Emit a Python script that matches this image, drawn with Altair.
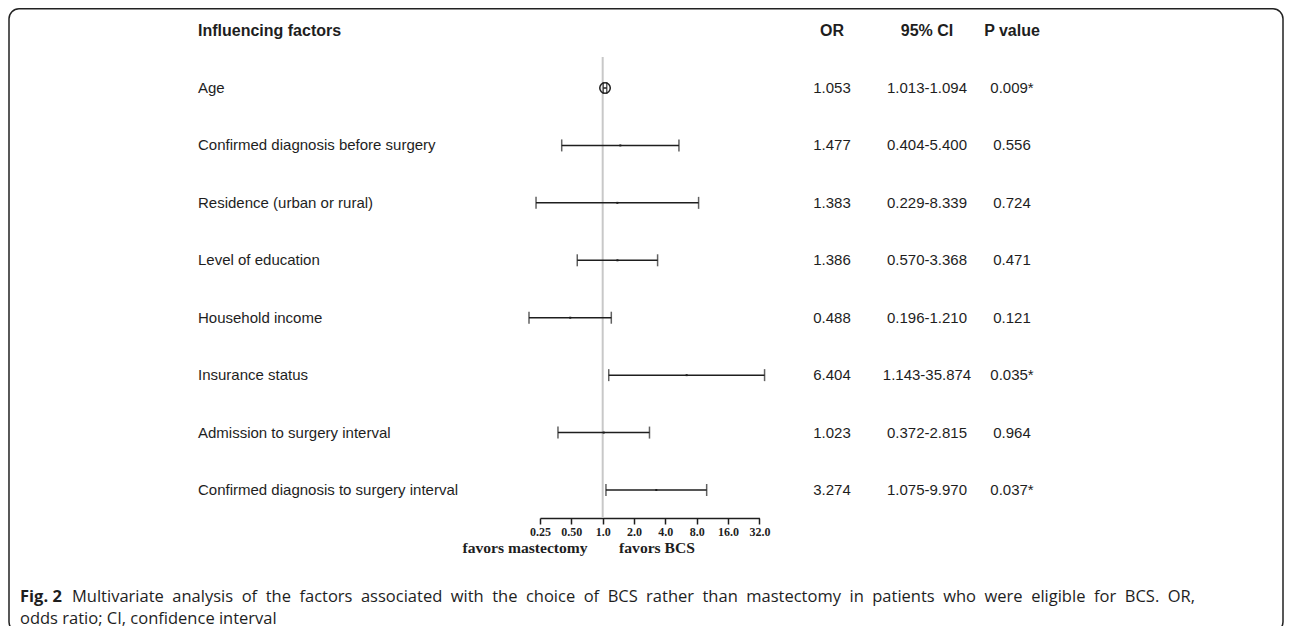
import altair as alt
import pandas as pd

# ---------------- data ----------------
factors = [
    "Age",
    "Confirmed diagnosis before surgery",
    "Residence (urban or rural)",
    "Level of education",
    "Household income",
    "Insurance status",
    "Admission to surgery interval",
    "Confirmed diagnosis to surgery interval",
]
odds_ratio = [1.053, 1.477, 1.383, 1.386, 0.488, 6.404, 1.023, 3.274]
ci_low = [1.013, 0.404, 0.229, 0.570, 0.196, 1.143, 0.372, 1.075]
ci_high = [1.094, 5.400, 8.339, 3.368, 1.210, 35.874, 2.815, 9.970]
p_values = ["0.009*", "0.556", "0.724", "0.471", "0.121", "0.035*", "0.964", "0.037*"]
markers = ["circle", "dot", "dot", "dot", "dot", "dot", "dot", "dot"]

tick_values = [0.25, 0.5, 1, 2, 4, 8, 16, 32]
tick_labels = ["0.25", "0.50", "1.0", "2.0", "4.0", "8.0", "16.0", "32.0"]

headers = ["Influencing factors", "OR", "95% CI", "P value"]
side_labels = ["favors mastectomy", "favors BCS"]
caption_bold = "Fig. 2"
caption_line1 = ("Multivariate analysis of the factors associated with the choice of BCS rather "
                 "than mastectomy in patients who were eligible for BCS. OR,")
caption_line2 = "odds ratio; CI, confidence interval"

df = pd.DataFrame({
    "factor": factors,
    "or": odds_ratio,
    "lo": ci_low,
    "hi": ci_high,
    "p": p_values,
    "marker": markers,
})
df["or_text"] = [f"{v:.3f}" for v in odds_ratio]
df["ci_text"] = [f"{a:.3f}-{b:.3f}" for a, b in zip(ci_low, ci_high)]

one = pd.DataFrame({"k": [0]})

# ---------------- styling ----------------
INK = "#1e1e1e"
SANS = "Liberation Sans"
SERIF = "Liberation Serif"
CAP_FONT = "Open Sans"
CAP_SIZE = 16.5

# justified caption line: approximate Open Sans advance widths (em units)
_w = {" ": .260, "a": .556, "b": .613, "c": .476, "d": .613, "e": .561, "f": .339, "g": .548,
      "h": .614, "i": .253, "l": .253, "m": .930, "n": .614, "o": .604, "p": .613, "r": .408,
      "s": .477, "t": .353, "u": .614, "v": .501, "w": .778, "y": .502, ".": .266, ",": .244,
      "M": .903, "B": .633, "C": .631, "S": .550, "O": .781, "R": .634}
words = caption_line1.split(" ")
widths = [sum(_w.get(ch, .55) for ch in wd) * CAP_SIZE for wd in words]
line_start, line_end = 64.0, 1187.0
gap = (line_end - line_start - sum(widths)) / (len(words) - 1)
xs, cur = [], line_start
for wdt in widths:
    xs.append(cur)
    cur += wdt + gap
caption_words = pd.DataFrame({"word": words, "px": xs})

label_expr = "{}[indexof({}, datum.value)]".format(
    "[" + ",".join(f"'{t}'" for t in tick_labels) + "]",
    "[" + ",".join(str(v) for v in tick_values) + "]",
)

xscale = alt.Scale(type="log", base=2, domain=[0.25, 32], range=[532, 751.4], nice=False)
yscale = alt.Scale(type="point", domain=factors, range=[80, 482], padding=0)

xaxis = alt.Axis(
    values=tick_values, labelExpr=label_expr, title=None, grid=False,
    labelFont=SERIF, labelFontWeight="bold", labelFontSize=12, labelColor=INK,
    labelPadding=2, labelFlush=False, labelOverlap=False,
    domainColor=INK, domainWidth=1.5, tickColor=INK, tickWidth=1.5, tickSize=6,
)

Y = alt.Y("factor:N", scale=yscale, axis=None)

base = alt.Chart(df)

ref_line = alt.Chart(one).mark_rule(color="#c8c8c8", strokeWidth=2).encode(
    x=alt.datum(1, scale=xscale, axis=xaxis, type="quantitative"),
    y=alt.value(49), y2=alt.value(510),
)

interval = base.mark_rule(color=INK, strokeWidth=1.5).encode(
    x=alt.X("lo:Q", scale=xscale, axis=xaxis), x2="hi:Q", y=Y,
)

caps = base.transform_fold(["lo", "hi"], as_=["end", "val"]).mark_tick(
    color=INK, size=12, thickness=1.5
).encode(x=alt.X("val:Q", scale=xscale), y=Y)

dots = base.transform_filter(alt.datum.marker == "dot").mark_point(
    shape="square", filled=True, size=4, color=INK, opacity=1
).encode(x=alt.X("or:Q", scale=xscale), y=Y)

circle = base.transform_filter(alt.datum.marker == "circle").mark_point(
    shape="circle", filled=False, size=110, color=INK, strokeWidth=1.5, opacity=1
).encode(x=alt.X("or:Q", scale=xscale), y=Y)


def col_text(field, xpos, align):
    return base.mark_text(align=align, baseline="middle", font=SANS, fontSize=15, color=INK).encode(
        x=alt.value(xpos), y=Y, text=f"{field}:N"
    )


t_factor = col_text("factor", 190, "left")
t_or = col_text("or_text", 824, "center")
t_ci = col_text("ci_text", 919, "center")
t_p = col_text("p", 1004, "center")


def fixed_text(txt, xpos, ypos, align, font, size, weight="normal"):
    return alt.Chart(one).mark_text(
        align=align, baseline="middle", font=font, fontSize=size, fontWeight=weight, color=INK
    ).encode(x=alt.value(xpos), y=alt.value(ypos), text=alt.value(txt))


h1 = fixed_text(headers[0], 190, 23, "left", SANS, 16, "bold")
h2 = fixed_text(headers[1], 824, 23, "center", SANS, 16, "bold")
h3 = fixed_text(headers[2], 919, 23, "center", SANS, 16, "bold")
h4 = fixed_text(headers[3], 1004, 23, "center", SANS, 16, "bold")

s1 = fixed_text(side_labels[0], 517, 540, "center", SERIF, 15.6, "bold")
s2 = fixed_text(side_labels[1], 649, 540, "center", SERIF, 15.6, "bold")

c0 = fixed_text(caption_bold, 12, 589, "left", CAP_FONT, CAP_SIZE, "bold")
c1 = alt.Chart(caption_words).mark_text(
    align="left", baseline="middle", font=CAP_FONT, fontSize=CAP_SIZE, color=INK
).encode(x=alt.X("px:Q", scale=None), y=alt.value(589), text="word:N")
c2 = fixed_text(caption_line2, 12, 611, "left", CAP_FONT, CAP_SIZE)

border = alt.Chart(one).mark_rect(
    filled=False, stroke="#222222", strokeWidth=1.5, cornerRadius=10
).encode(x=alt.value(1), x2=alt.value(1275), y=alt.value(0.75), y2=alt.value(624))

chart = alt.layer(
    border, ref_line, interval, caps, dots, circle,
    t_factor, t_or, t_ci, t_p, h1, h2, h3, h4, s1, s2, c0, c1, c2,
).properties(
    width=1276, height=510,
    autosize=alt.AutoSizeParams(type="none"),
    padding={"left": 0, "top": 0, "right": 0, "bottom": 110},
    background="white",
).configure_view(stroke=None)

chart.save("out.html", embed_options={"renderer": "svg", "actions": False})
